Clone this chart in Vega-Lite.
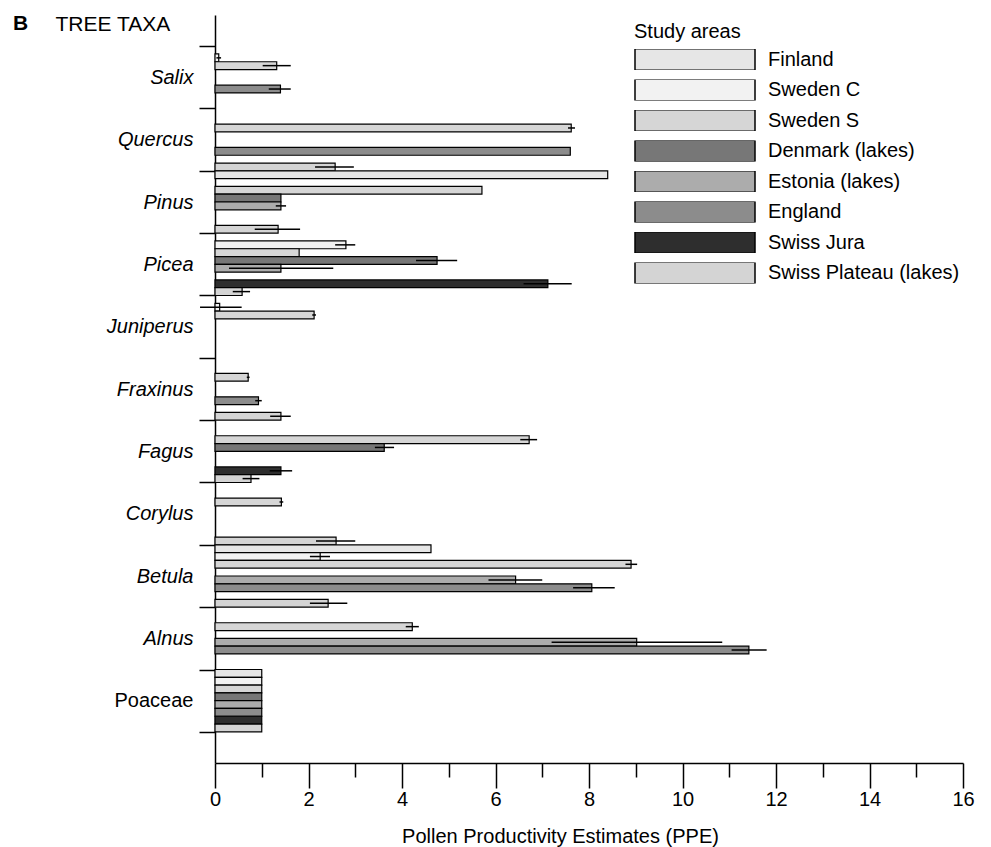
{
  "$schema": "https://vega.github.io/schema/vega-lite/v6.json",
  "width": 748,
  "height": 748,
  "autosize": {"type": "none"},
  "padding": {"left": 215, "top": 15, "right": 28, "bottom": 84},
  "background": "white",
  "config": {"font": "Liberation Sans", "view": {"stroke": null}},
  "title": {"text": "B", "anchor": "start", "frame": "group", "dx": -202, "dy": 46, "offset": 0, "baseline": "alphabetic", "fontSize": 21, "fontWeight": "bold", "color": "black"},
  "data": {"values": [
    {"taxon": "Salix", "area": "Sweden C", "ppe": 0.08, "lo": 0.03, "hi": 0.13},
    {"taxon": "Salix", "area": "Sweden S", "ppe": 1.32, "lo": 1.02, "hi": 1.62},
    {"taxon": "Salix", "area": "England", "ppe": 1.4, "lo": 1.15, "hi": 1.62},
    {"taxon": "Quercus", "area": "Sweden S", "ppe": 7.62, "lo": 7.55, "hi": 7.7},
    {"taxon": "Quercus", "area": "England", "ppe": 7.6},
    {"taxon": "Quercus", "area": "Swiss Plateau (lakes)", "ppe": 2.57, "lo": 2.14, "hi": 2.97},
    {"taxon": "Pinus", "area": "Finland", "ppe": 8.4},
    {"taxon": "Pinus", "area": "Sweden S", "ppe": 5.71},
    {"taxon": "Pinus", "area": "Denmark (lakes)", "ppe": 1.41},
    {"taxon": "Pinus", "area": "Estonia (lakes)", "ppe": 1.41, "lo": 1.3, "hi": 1.52},
    {"taxon": "Pinus", "area": "Swiss Plateau (lakes)", "ppe": 1.35, "lo": 0.85, "hi": 1.82},
    {"taxon": "Picea", "area": "Sweden C", "ppe": 2.8, "lo": 2.57, "hi": 3.0},
    {"taxon": "Picea", "area": "Sweden S", "ppe": 1.8},
    {"taxon": "Picea", "area": "Denmark (lakes)", "ppe": 4.75, "lo": 4.3, "hi": 5.18},
    {"taxon": "Picea", "area": "Estonia (lakes)", "ppe": 1.41, "lo": 0.3, "hi": 2.53},
    {"taxon": "Picea", "area": "Swiss Jura", "ppe": 7.12, "lo": 6.6, "hi": 7.63},
    {"taxon": "Picea", "area": "Swiss Plateau (lakes)", "ppe": 0.58, "lo": 0.38, "hi": 0.75},
    {"taxon": "Juniperus", "area": "Sweden C", "ppe": 0.1, "lo": -0.32, "hi": 0.57},
    {"taxon": "Juniperus", "area": "Sweden S", "ppe": 2.12, "lo": 2.08, "hi": 2.16},
    {"taxon": "Fraxinus", "area": "Sweden S", "ppe": 0.71, "lo": 0.68, "hi": 0.74},
    {"taxon": "Fraxinus", "area": "England", "ppe": 0.93, "lo": 0.86, "hi": 1.0},
    {"taxon": "Fraxinus", "area": "Swiss Plateau (lakes)", "ppe": 1.41, "lo": 1.18, "hi": 1.62},
    {"taxon": "Fagus", "area": "Sweden S", "ppe": 6.72, "lo": 6.53, "hi": 6.89},
    {"taxon": "Fagus", "area": "Denmark (lakes)", "ppe": 3.62, "lo": 3.42, "hi": 3.83},
    {"taxon": "Fagus", "area": "Swiss Jura", "ppe": 1.41, "lo": 1.17, "hi": 1.65},
    {"taxon": "Fagus", "area": "Swiss Plateau (lakes)", "ppe": 0.77, "lo": 0.59, "hi": 0.95},
    {"taxon": "Corylus", "area": "Sweden S", "ppe": 1.42, "lo": 1.38, "hi": 1.46},
    {"taxon": "Corylus", "area": "Swiss Plateau (lakes)", "ppe": 2.59, "lo": 2.16, "hi": 3.0},
    {"taxon": "Betula", "area": "Finland", "ppe": 4.62},
    {"taxon": "Betula", "area": "Sweden C", "ppe": 2.25, "lo": 2.03, "hi": 2.46},
    {"taxon": "Betula", "area": "Sweden S", "ppe": 8.9, "lo": 8.78, "hi": 9.03},
    {"taxon": "Betula", "area": "Estonia (lakes)", "ppe": 6.43, "lo": 5.85, "hi": 7.0},
    {"taxon": "Betula", "area": "England", "ppe": 8.06, "lo": 7.66, "hi": 8.55},
    {"taxon": "Betula", "area": "Swiss Plateau (lakes)", "ppe": 2.42, "lo": 2.03, "hi": 2.83},
    {"taxon": "Alnus", "area": "Sweden S", "ppe": 4.22, "lo": 4.08, "hi": 4.36},
    {"taxon": "Alnus", "area": "Estonia (lakes)", "ppe": 9.02, "lo": 7.2, "hi": 10.85},
    {"taxon": "Alnus", "area": "England", "ppe": 11.42, "lo": 11.05, "hi": 11.8},
    {"taxon": "Poaceae", "area": "Finland", "ppe": 1.0},
    {"taxon": "Poaceae", "area": "Sweden C", "ppe": 1.0},
    {"taxon": "Poaceae", "area": "Sweden S", "ppe": 1.0},
    {"taxon": "Poaceae", "area": "Denmark (lakes)", "ppe": 1.0},
    {"taxon": "Poaceae", "area": "Estonia (lakes)", "ppe": 1.0},
    {"taxon": "Poaceae", "area": "England", "ppe": 1.0},
    {"taxon": "Poaceae", "area": "Swiss Jura", "ppe": 1.0},
    {"taxon": "Poaceae", "area": "Swiss Plateau (lakes)", "ppe": 1.0}
  ]},
  "encoding": {
    "y": {
      "field": "taxon", "type": "nominal", "sort": null,
      "scale": {"domain": ["Salix", "Quercus", "Pinus", "Picea", "Juniperus", "Fraxinus", "Fagus", "Corylus", "Betula", "Alnus", "Poaceae"], "paddingInner": 0, "paddingOuter": 0.5},
      "axis": {
        "title": "TREE TAXA", "titleAngle": 0, "titleX": -160, "titleY": 15, "titleAlign": "left", "titleBaseline": "alphabetic",
        "titleFontSize": 21, "titleFontWeight": "normal", "titleColor": "black",
        "domainColor": "black", "domainWidth": 1.5,
        "tickBand": "extent", "tickSize": 16, "tickWidth": 1.5, "tickColor": "black",
        "labelFontSize": 20, "labelColor": "black", "labelPadding": 6,
        "labelFontStyle": {"condition": {"test": "datum.value === 'Poaceae'", "value": "normal"}, "value": "italic"}
      }
    },
    "yOffset": {
      "field": "area", "type": "nominal", "sort": null,
      "scale": {"domain": ["Finland", "Sweden C", "Sweden S", "Denmark (lakes)", "Estonia (lakes)", "England", "Swiss Jura", "Swiss Plateau (lakes)"], "paddingInner": 0, "paddingOuter": 0}
    }
  },
  "layer": [
    {
      "mark": {"type": "bar", "stroke": "black", "strokeWidth": 1.2},
      "encoding": {
        "x": {
          "field": "ppe", "type": "quantitative", "title": "Pollen Productivity Estimates (PPE)",
          "scale": {"domain": [0, 16], "nice": false},
          "axis": {
            "values": [0, 1, 2, 3, 4, 5, 6, 7, 8, 9, 10, 11, 12, 13, 14, 15, 16],
            "labelExpr": "datum.value % 2 === 0 ? datum.label : ''",
            "grid": false, "domainColor": "black", "domainWidth": 1.5,
            "tickColor": "black", "tickWidth": 1.5,
            "tickSize": {"condition": {"test": "datum.value % 2 === 0", "value": 25}, "value": 14},
            "labelFontSize": 20, "labelColor": "black", "labelPadding": 1, "labelFlush": false,
            "titleFontSize": 20, "titleFontWeight": "normal", "titleColor": "black",
            "titleX": 345, "titleY": 79, "titleAlign": "center", "titleBaseline": "alphabetic"
          }
        },
        "color": {
          "field": "area", "type": "nominal",
          "scale": {
            "domain": ["Finland", "Sweden C", "Sweden S", "Denmark (lakes)", "Estonia (lakes)", "England", "Swiss Jura", "Swiss Plateau (lakes)"],
            "range": ["#e6e6e6", "#f2f2f2", "#d6d6d6", "#777777", "#acacac", "#8c8c8c", "#2e2e2e", "#d4d4d4"]
          },
          "legend": {
            "orient": "none", "legendX": 419, "legendY": 7, "title": "Study areas",
            "titleFontSize": 20, "titleFontWeight": "normal", "titleColor": "black", "titlePadding": 7,
            "labelFontSize": 20, "labelColor": "black", "labelOffset": 12, "labelLimit": 400,
            "symbolType": "M-1,-0.178H1V0.178H-1Z", "symbolSize": 14400,
            "symbolStrokeColor": "black", "symbolStrokeWidth": 1.5, "symbolOpacity": 1,
            "clipHeight": 21, "rowPadding": 9.5, "padding": 0
          }
        }
      }
    },
    {
      "transform": [{"filter": "isValid(datum.lo)"}],
      "mark": {"type": "rule", "color": "black", "strokeWidth": 1.5},
      "encoding": {
        "x": {"field": "lo", "type": "quantitative", "title": "Pollen Productivity Estimates (PPE)"},
        "x2": {"field": "hi"}
      }
    }
  ]
}
